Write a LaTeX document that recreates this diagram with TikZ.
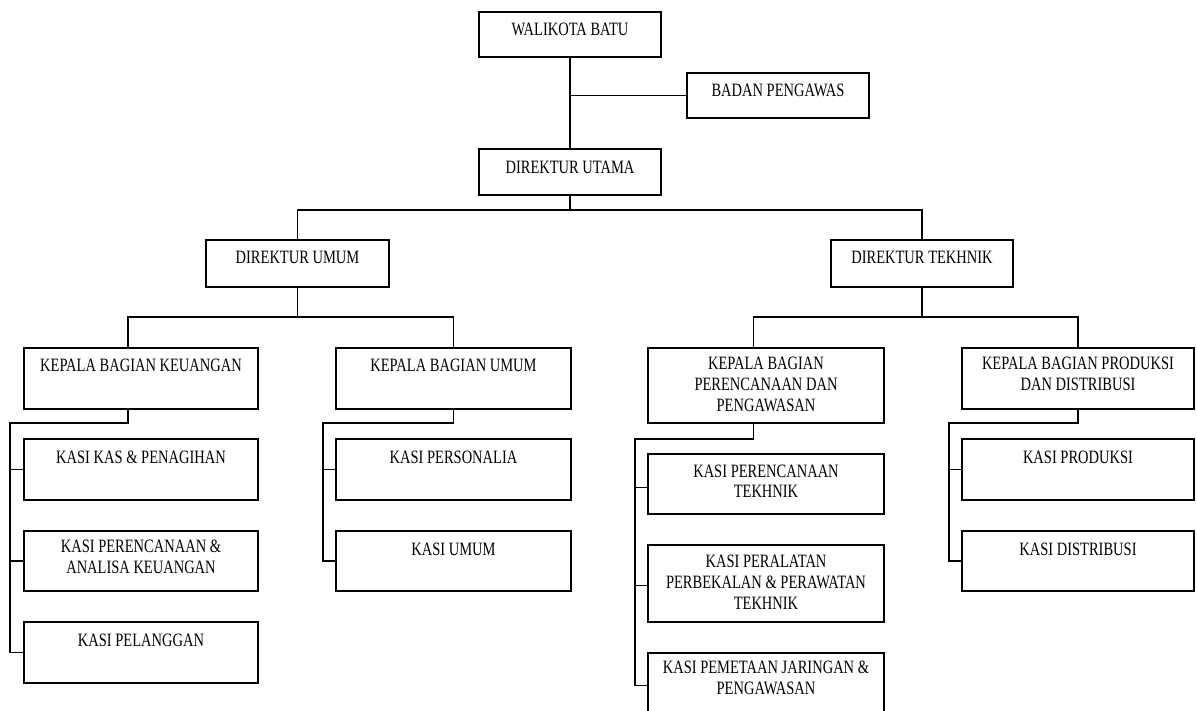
\documentclass[tikz,border=0pt]{standalone}
\usepackage{fontspec}
\setmainfont{Liberation Serif}
\usepackage{graphicx}
\newcommand{\vtxt}[1]{\scalebox{1}[1.3]{\begin{tabular}[t]{@{}c@{}}#1\end{tabular}}}
\tikzset{
  orgbox/.style={draw=black, line width=1.2pt, rectangle, inner sep=0pt, outer sep=0pt},
  lbl/.style={anchor=base, inner sep=0pt, font=\fontsize{14.5}{16}\selectfont},
  conn/.style={draw=black, line width=1.2pt},
}
\begin{document}
\begin{tikzpicture}[x=1pt, y=-1pt]
\clip (0,0) rectangle (1197,711);
\fill[white] (0,0) rectangle (1197,711);
% boxes
\node[orgbox, minimum width=182pt, minimum height=45pt] (wal) at (570,34.5) {};
\node[orgbox, minimum width=182pt, minimum height=45pt] (bad) at (778,95.5) {};
\node[orgbox, minimum width=182pt, minimum height=46pt] (dut) at (570,172) {};
\node[orgbox, minimum width=183pt, minimum height=47pt] (dum) at (297.5,263.5) {};
\node[orgbox, minimum width=182pt, minimum height=47pt] (dte) at (922,263.5) {};
\node[orgbox, minimum width=234pt, minimum height=61pt] (kke) at (141,378.5) {};
\node[orgbox, minimum width=235pt, minimum height=61pt] (kum) at (453.5,378.5) {};
\node[orgbox, minimum width=236pt, minimum height=75pt] (kpp) at (766,385.5) {};
\node[orgbox, minimum width=232pt, minimum height=61pt] (kpd) at (1078,378.5) {};
\node[orgbox, minimum width=234pt, minimum height=61pt] (kas) at (141,469.5) {};
\node[orgbox, minimum width=234pt, minimum height=60pt] (kpa) at (141,561) {};
\node[orgbox, minimum width=234pt, minimum height=61pt] (kpl) at (141,652.5) {};
\node[orgbox, minimum width=235pt, minimum height=61pt] (kpr) at (453.5,469.5) {};
\node[orgbox, minimum width=235pt, minimum height=60pt] (kun) at (453.5,561) {};
\node[orgbox, minimum width=236pt, minimum height=60pt] (kpt) at (766,484) {};
\node[orgbox, minimum width=236pt, minimum height=77pt] (kpb) at (766,583.5) {};
\node[orgbox, minimum width=236pt, minimum height=62pt] (kpj) at (766,684) {};
\node[orgbox, minimum width=232pt, minimum height=61pt] (kpo) at (1078,469.5) {};
\node[orgbox, minimum width=232pt, minimum height=60pt] (kdi) at (1078,561) {};
% labels
\node[lbl, yshift=-23.5pt] (walt) at (wal.north) {\vtxt{WALIKOTA BATU}};
\node[lbl, yshift=-23.5pt] (badt) at (bad.north) {\vtxt{BADAN PENGAWAS}};
\node[lbl, yshift=-24.5pt] (dutt) at (dut.north) {\vtxt{DIREKTUR UTAMA}};
\node[lbl, yshift=-24pt] (dumt) at (dum.north) {\vtxt{DIREKTUR UMUM}};
\node[lbl, yshift=-24pt] (dtet) at (dte.north) {\vtxt{DIREKTUR TEKHNIK}};
\node[lbl, yshift=-23.5pt] (kket) at (kke.north) {\vtxt{KEPALA BAGIAN KEUANGAN}};
\node[lbl, yshift=-23.5pt] (kumt) at (kum.north) {\vtxt{KEPALA BAGIAN UMUM}};
\node[lbl, yshift=-21.8pt] (kppt) at (kpp.north) {\vtxt{KEPALA BAGIAN\\PERENCANAAN DAN\\PENGAWASAN}};
\node[lbl, yshift=-21.8pt] (kpdt) at (kpd.north) {\vtxt{KEPALA BAGIAN PRODUKSI\\DAN DISTRIBUSI}};
\node[lbl, yshift=-24.5pt] (kast) at (kas.north) {\vtxt{KASI KAS \& PENAGIHAN}};
\node[lbl, yshift=-21.5pt] (kpat) at (kpa.north) {\vtxt{KASI PERENCANAAN \&\\ANALISA KEUANGAN}};
\node[lbl, yshift=-24.5pt] (kplt) at (kpl.north) {\vtxt{KASI PELANGGAN}};
\node[lbl, yshift=-24.5pt] (kprt) at (kpr.north) {\vtxt{KASI PERSONALIA}};
\node[lbl, yshift=-24.5pt] (kunt) at (kun.north) {\vtxt{KASI UMUM}};
\node[lbl, yshift=-23pt] (kptt) at (kpt.north) {\vtxt{KASI PERENCANAAN\\TEKHNIK}};
\node[lbl, yshift=-22.5pt] (kpbt) at (kpb.north) {\vtxt{KASI PERALATAN\\PERBEKALAN \& PERAWATAN\\TEKHNIK}};
\node[lbl, yshift=-20.8pt] (kpjt) at (kpj.north) {\vtxt{KASI PEMETAAN JARINGAN \&\\PENGAWASAN}};
\node[lbl, yshift=-24.5pt] (kpot) at (kpo.north) {\vtxt{KASI PRODUKSI}};
\node[lbl, yshift=-24.5pt] (kdit) at (kdi.north) {\vtxt{KASI DISTRIBUSI}};
% coordinates
\coordinate (b1) at (570,210);
\coordinate (b2) at (297.5,317);
\coordinate (b3) at (922,317);
\coordinate (k1) at (10,423);
\coordinate (k2) at (323,423);
\coordinate (k3) at (635,439);
\coordinate (k4) at (949,423);
% connectors
\draw[conn] (wal.south) -- (dut.north);
\draw[conn] (wal.south |- bad.west) -- (bad.west);
\draw[conn] (dut.south) -- (b1);
\draw[conn] (dum.north) |- (b1) -| (dte.north);
\draw[conn] (dum.south) -- (b2);
\draw[conn] ([xshift=-13pt]kke.north) |- (b2) -| (kum.north);
\draw[conn] (dte.south) -- (b3);
\draw[conn] ([xshift=-12.5pt]kpp.north) |- (b3) -| (kpd.north);
\draw[conn] ([xshift=-13pt]kke.south) |- (k1) |- (kpl.west);
\draw[conn] (kas.west) -- (kas.west -| k1);
\draw[conn] (kpa.west) -- (kpa.west -| k1);
\draw[conn] (kum.south) |- (k2) |- (kun.west);
\draw[conn] (kpr.west) -- (kpr.west -| k2);
\draw[conn] ([xshift=-12.5pt]kpp.south) |- (k3) |- ([yshift=-1.5pt]kpj.west);
\draw[conn] ([yshift=-3.5pt]kpt.west) -- ([yshift=-3.5pt]kpt.west -| k3);
\draw[conn] ([yshift=-1.8pt]kpb.west) -- ([yshift=-1.8pt]kpb.west -| k3);
\draw[conn] (kpd.south) |- (k4) |- (kdi.west);
\draw[conn] (kpo.west) -- (kpo.west -| k4);
\end{tikzpicture}
\end{document}
